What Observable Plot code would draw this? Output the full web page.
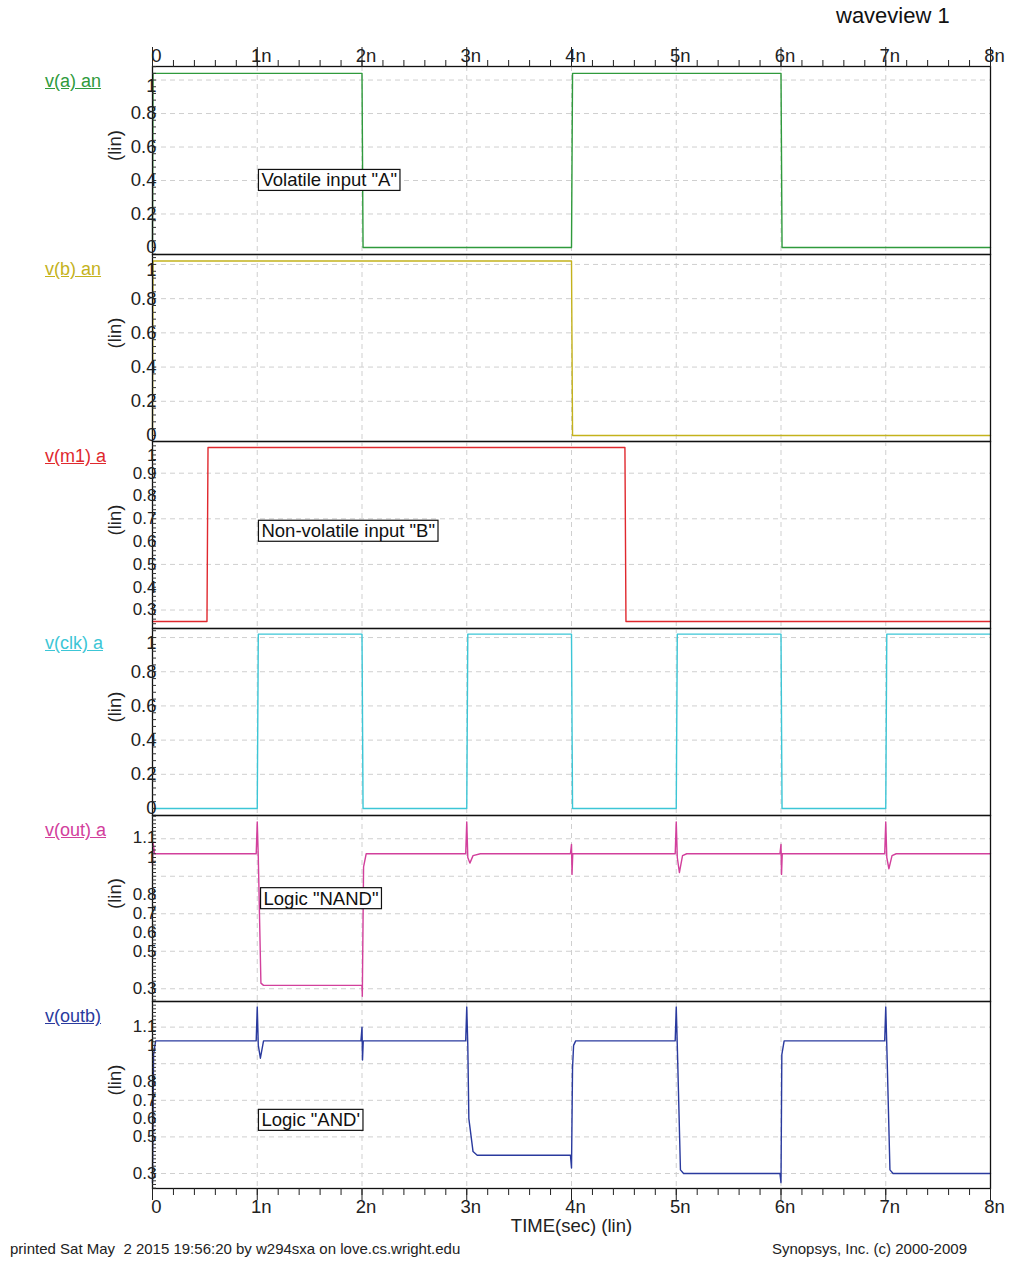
<!DOCTYPE html>
<html><head><meta charset="utf-8">
<script src="https://cdn.jsdelivr.net/npm/d3@7"></script>
<script src="https://cdn.jsdelivr.net/npm/@observablehq/plot@0.6"></script>
<style>
body{margin:0;background:#fff;font-family:"Liberation Sans",Arial,sans-serif;}
#root{position:relative;width:1011px;height:1261px;overflow:hidden;background:#fff;}
.abs{position:absolute;}
.sig{position:absolute;left:45px;white-space:nowrap;font-size:18px;text-decoration:underline;}
</style></head><body><div id="root"></div>
<script>
// ---- time axis ----
const timeTicks = [0, 1, 2, 3, 4, 5, 6, 7, 8];
const timeLabels = ["0", "1n", "2n", "3n", "4n", "5n", "6n", "7n", "8n"];
const gridTimes = [1, 2, 3, 4, 5, 6, 7];

// ---- signals (time in ns, volts) ----
const aTime = [0, 0.005, 2, 2.01, 4, 4.01, 6, 6.01, 8];
const aVolt = [0, 1.04, 1.04, 0, 0, 1.04, 1.04, 0, 0];

const bTime = [0, 0.005, 4, 4.01, 8];
const bVolt = [0, 1.02, 1.02, 0, 0];

const m1Time = [0, 0.52, 0.53, 4.51, 4.52, 8];
const m1Volt = [0.25, 0.25, 1.013, 1.013, 0.25, 0.25];

const clkTime = [0, 1, 1.01, 2, 2.01, 3, 3.01, 4, 4.01, 5, 5.01, 6, 6.01, 7, 7.01, 8];
const clkVolt = [0, 0, 1.02, 1.02, 0, 0, 1.02, 1.02, 0, 0, 1.02, 1.02, 0, 0, 1.02, 1.02];

const outTime = [0, 0.005, 0.02, 0.99, 1.0, 1.01, 1.035, 1.06, 2.0, 2.003, 2.015, 2.04,
  2.99, 3.0, 3.01, 3.03, 3.06, 3.13, 3.99, 4.0, 4.005, 4.012, 4.99, 5.0, 5.01, 5.03, 5.06, 5.1,
  5.99, 6.0, 6.005, 6.012, 6.99, 7.0, 7.01, 7.03, 7.06, 7.1, 8];
const outVolt = [0.96, 1.08, 1.02, 1.02, 1.19, 1.0, 0.33, 0.318, 0.318, 0.26, 0.95, 1.02,
  1.02, 1.19, 1.0, 0.97, 1.01, 1.02, 1.02, 1.07, 0.91, 1.02, 1.02, 1.19, 1.0, 0.92, 1.01, 1.02,
  1.02, 1.07, 0.91, 1.02, 1.02, 1.19, 1.0, 0.94, 1.01, 1.02, 1.02];

const outbTime = [0, 0.01, 0.03, 0.99, 1.0, 1.01, 1.03, 1.06, 1.99, 2.0, 2.005, 2.012,
  2.99, 3.0, 3.01, 3.02, 3.06, 3.1, 3.99, 4.0, 4.01, 4.02, 4.04, 4.99, 5.0, 5.01, 5.04, 5.07,
  5.99, 6.0, 6.008, 6.03, 6.99, 7.0, 7.01, 7.04, 7.07, 8];
const outbVolt = [0.25, 0.95, 1.025, 1.025, 1.21, 1.0, 0.93, 1.025, 1.025, 1.1, 0.92, 1.025,
  1.025, 1.21, 1.0, 0.6, 0.42, 0.40, 0.40, 0.33, 0.88, 1.0, 1.025, 1.025, 1.21, 1.0, 0.32, 0.30,
  0.30, 0.25, 0.95, 1.025, 1.025, 1.21, 1.0, 0.32, 0.30, 0.30];

// ---- per-panel labels / ticks ----
const signalNames = ["v(a) an", "v(b) an", "v(m1) a", "v(clk) a", "v(out) a", "v(outb)"];
const signalColors = ["#2f9a3c", "#c4b21c", "#e0282e", "#3cc6d6", "#d2409c", "#2a3a9e"];
const ticksUnit = [0, 0.2, 0.4, 0.6, 0.8, 1];
const ticksM1 = [0.3, 0.4, 0.5, 0.6, 0.7, 0.8, 0.9, 1];
const ticksOut = [0.3, 0.5, 0.6, 0.7, 0.8, 1, 1.1];
const gridUnit = [0.2, 0.4, 0.6, 0.8, 1];
const gridM1 = [0.3, 0.5, 0.7, 0.9];
const gridOut = [0.3, 0.5, 0.7, 0.9, 1.1];
const noteTexts = ['Volatile input "A"', null, 'Non-volatile input "B"', null, 'Logic "NAND"', "Logic \"AND'"];
const noteTimes = [1.04, null, 1.04, null, 1.06, 1.04];
const noteVolts = [0.4, null, 0.645, null, 0.78, 0.59];

// ---- layout ----
const W = 1011, ML = 152, MR = 21, FS = 18.5;
const panels = [
  {t: aTime, v: aVolt, domain: [-0.042, 1.081], ticks: ticksUnit, grid: gridUnit, minorStep: 0.04, tfs: 18.5, topShift: 6, top: 30, height: 224, mt: 36, mb: 0},
  {t: bTime, v: bVolt, domain: [-0.035, 1.058], ticks: ticksUnit, grid: gridUnit, minorStep: 0.04, tfs: 18.5, topShift: 6, top: 254, height: 187, mt: 0, mb: 0},
  {t: m1Time, v: m1Volt, domain: [0.219, 1.039], ticks: ticksM1, grid: gridM1, minorStep: 0.02, tfs: 17, topShift: 5, top: 441, height: 187, mt: 0, mb: 0},
  {t: clkTime, v: clkVolt, domain: [-0.041, 1.053], ticks: ticksUnit, grid: gridUnit, minorStep: 0.04, tfs: 18.5, topShift: 6, top: 628, height: 187, mt: 0, mb: 0},
  {t: outTime, v: outVolt, domain: [0.232, 1.224], ticks: ticksOut, grid: gridOut, minorStep: 0.02, tfs: 17, topShift: -1, top: 815, height: 186, mt: 0, mb: 0},
  {t: outbTime, v: outbVolt, domain: [0.218, 1.24], ticks: ticksOut, grid: gridOut, minorStep: 0.02, tfs: 17, topShift: -1, top: 1001, height: 238, mt: 0, mb: 51}
];

const root = document.getElementById("root");
const FONT = "'Liberation Sans', Arial, sans-serif";
const labelOf = new Map(timeTicks.map((d, i) => [d, timeLabels[i]]));
const minorTime = d3.range(0, 8.0001, 0.2);

function addDiv(text, style) {
  const d = document.createElement("div");
  d.className = "abs";
  d.textContent = text;
  Object.assign(d.style, style);
  root.appendChild(d);
  return d;
}

addDiv("waveview 1", {left: "836px", top: "3px", fontSize: "22px", color: "#111"});

panels.forEach((p, k) => {
  const data = p.t.map((t, i) => ({t, v: p.v[i]}));
  const minorY = d3.range(Math.ceil(p.domain[0] / p.minorStep) * p.minorStep, p.domain[1], p.minorStep);
  const topTick = p.ticks[p.ticks.length - 1];
  const restTicks = p.ticks.slice(0, -1);
  const yLab = {anchor: "left", label: null, tickSize: 0, tickPadding: -4, fontSize: p.tfs, fill: "#222", tickFormat: d => String(d)};
  const marks = [
    Plot.ruleY(p.grid, {stroke: "#cfcfcf", strokeDasharray: "5,4"}),
    Plot.ruleX(gridTimes, {stroke: "#cfcfcf", strokeDasharray: "5,4"}),
    Plot.line(data, {x: "t", y: "v", stroke: signalColors[k], strokeWidth: 1.4}),
    Plot.frame({stroke: "#111", strokeWidth: 1.3}),
    Plot.axisY(minorY, {anchor: "left", label: null, tickSize: -4, tickFormat: () => "", stroke: "#333"}),
    Plot.axisY(restTicks, yLab),
    Plot.axisY([topTick], {...yLab, dy: p.topShift}),
    Plot.text(["(lin)"], {frameAnchor: "left", rotate: -90, dx: -37, dy: -15, fontSize: FS, textAnchor: "middle", lineAnchor: "middle", fill: "#222"})
  ];
  if (noteTexts[k]) {
    marks.push(Plot.text([{t: noteTimes[k], v: noteVolts[k], s: noteTexts[k]}],
      {x: "t", y: "v", text: "s", textAnchor: "start", lineAnchor: "middle", fontSize: FS, fill: "#111"}));
  }
  if (k === 0) {
    marks.push(
      Plot.axisX(timeTicks, {anchor: "top", label: null, tickSize: 20, tickFormat: () => "", stroke: "#222"}),
      Plot.axisX(minorTime, {anchor: "top", label: null, tickSize: 7, tickFormat: () => "", stroke: "#222"}),
      Plot.axisX(timeTicks, {anchor: "top", label: null, tickSize: 0, tickPadding: 5, dx: 4, fontSize: FS, fill: "#222", tickFormat: d => labelOf.get(d)})
    );
  }
  if (k === panels.length - 1) {
    marks.push(
      Plot.axisX(timeTicks, {anchor: "bottom", label: null, tickSize: 12, tickFormat: () => "", stroke: "#222"}),
      Plot.axisX(minorTime, {anchor: "bottom", label: null, tickSize: 7, tickFormat: () => "", stroke: "#222"}),
      Plot.axisX(timeTicks, {anchor: "bottom", label: null, tickSize: 0, tickPadding: 11, dx: 4, fontSize: FS, fill: "#222", tickFormat: d => labelOf.get(d)}),
      Plot.text(["TIME(sec) (lin)"], {frameAnchor: "bottom", dy: 38, fontSize: FS, lineAnchor: "middle", fill: "#222"})
    );
  }
  const svg = Plot.plot({
    width: W, height: p.height,
    marginLeft: ML, marginRight: MR, marginTop: p.mt, marginBottom: p.mb,
    x: {domain: [0, 8], axis: null, label: null},
    y: {domain: p.domain, axis: null, label: null},
    style: {fontFamily: FONT, fontSize: FS + "px", background: "transparent", overflow: "visible", color: "#222"},
    marks
  });
  svg.style.position = "absolute";
  svg.style.left = "0px";
  svg.style.top = p.top + "px";
  svg.style.maxWidth = "none";
  root.appendChild(svg);

  // boxes around annotation text
  if (noteTexts[k]) {
    svg.querySelectorAll("text").forEach(t => {
      if (t.textContent !== noteTexts[k]) return;
      const b = t.getBBox();
      const r = document.createElementNS("http://www.w3.org/2000/svg", "rect");
      r.setAttribute("x", b.x - 3);
      r.setAttribute("y", b.y);
      r.setAttribute("width", b.width + 6);
      r.setAttribute("height", b.height);
      r.setAttribute("fill", "#fff");
      r.setAttribute("stroke", "#111");
      r.setAttribute("stroke-width", "1.2");
      if (t.getAttribute("transform")) r.setAttribute("transform", t.getAttribute("transform"));
      t.parentNode.insertBefore(r, t);
    });
  }

  // signal name at left
  const lab = document.createElement("div");
  lab.className = "sig";
  lab.textContent = signalNames[k];
  lab.style.top = (p.top + p.mt + 5) + "px";
  lab.style.color = signalColors[k];
  root.appendChild(lab);
});

addDiv("printed Sat May  2 2015 19:56:20 by w294sxa on love.cs.wright.edu", {left: "10px", top: "1240px", fontSize: "15px", color: "#222", whiteSpace: "pre"});
addDiv("Synopsys, Inc. (c) 2000-2009", {right: "44px", top: "1240px", fontSize: "15px", color: "#222"});
</script></body></html>
